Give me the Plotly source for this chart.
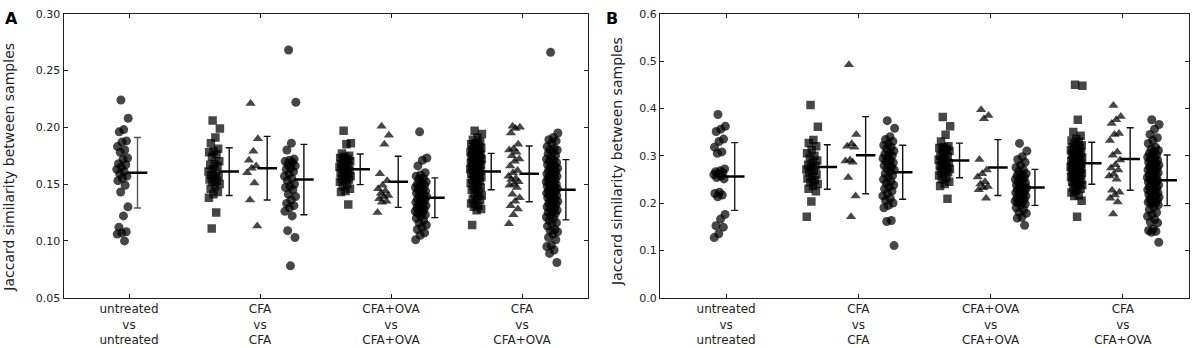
import plotly.graph_objects as go

# ---------------- data ----------------
categories = ["untreated<br>vs<br>untreated", "CFA<br>vs<br>CFA",
              "CFA+OVA<br>vs<br>CFA+OVA", "CFA<br>vs<br>CFA+OVA"]

A_yticks = [0.05, 0.10, 0.15, 0.20, 0.25, 0.30]
B_yticks = [0.0, 0.1, 0.2, 0.3, 0.4, 0.5, 0.6]

# Panel A
A_g1_circ = [0.224,0.208,0.198,0.196,0.188,0.187,0.183,0.180,0.178,0.173,0.172,0.168,0.167,0.165,0.163,
             0.161,0.159,0.157,0.155,0.153,0.149,0.143,0.130,0.122,0.112,0.108,0.107,0.106,0.100]
A_g2_sq = [0.206,0.199,0.191,0.186,0.181,0.179,0.178,0.176,0.174,0.170,0.168,0.167,0.166,0.163,0.161,
           0.160,0.158,0.157,0.155,0.154,0.153,0.152,0.150,0.148,0.146,0.143,0.141,0.138,0.125,0.111]
A_g2_tri = [0.221,0.190,0.179,0.171,0.166,0.164,0.160,0.151,0.136,0.113]
A_g2_circ = [0.268,0.222,0.186,0.180,0.172,0.171,0.170,0.169,0.167,0.166,0.164,0.163,0.161,0.159,0.157,
             0.155,0.153,0.150,0.148,0.147,0.145,0.141,0.139,0.136,0.133,0.131,0.129,0.126,0.122,0.109,
             0.103,0.078]
A_g3_sq = [0.197,0.186,0.185,0.177,0.175,0.174,0.173,0.172,0.171,0.170,0.169,0.168,0.167,0.166,0.165,
           0.164,0.163,0.162,0.161,0.160,0.159,0.158,0.157,0.156,0.155,0.154,0.153,0.152,0.150,0.148,
           0.146,0.144,0.143,0.132]
A_g3_tri = [0.201,0.193,0.185,0.159,0.153,0.149,0.146,0.144,0.142,0.140,0.139,0.137,0.135,0.134,0.125]
A_g3_circ = [0.196,0.173,0.171,0.166,0.160,0.158,0.157,0.155,0.154,0.152,0.151,0.150,0.149,0.148,0.147,
             0.146,0.145,0.144,0.143,0.142,0.141,0.140,0.139,0.138,0.137,0.136,0.135,0.134,0.133,0.132,
             0.131,0.130,0.129,0.128,0.127,0.126,0.125,0.124,0.123,0.122,0.120,0.118,0.116,0.114,0.112,
             0.110,0.107,0.105,0.101]
A_g4_sq = [0.197,0.194,0.191,0.189,0.187,0.186,0.185,0.184,0.183,0.182,0.181,0.180,0.179,0.178,0.178,
           0.177,0.176,0.176,0.175,0.174,0.174,0.173,0.172,0.172,0.171,0.170,0.170,0.169,0.168,0.168,
           0.167,0.166,0.166,0.165,0.164,0.163,0.163,0.162,0.161,0.160,0.159,0.158,0.157,0.156,0.155,
           0.154,0.153,0.152,0.151,0.150,0.148,0.147,0.146,0.145,0.143,0.142,0.140,0.139,0.137,0.136,
           0.135,0.133,0.131,0.130,0.128,0.127,0.114]
A_g4_tri = [0.201,0.200,0.199,0.195,0.185,0.181,0.180,0.178,0.175,0.172,0.170,0.166,0.162,0.160,0.157,
            0.155,0.154,0.152,0.150,0.149,0.147,0.141,0.138,0.135,0.131,0.128,0.123,0.115]
A_g4_circ = [0.266,0.195,0.191,0.189,0.188,0.186,0.183,0.181,0.180,0.180,0.178,0.177,0.175,0.173,0.172,
             0.171,0.170,0.169,0.168,0.167,0.166,0.165,0.164,0.163,0.162,0.161,0.160,0.159,0.158,0.157,
             0.157,0.156,0.155,0.154,0.153,0.152,0.152,0.151,0.150,0.149,0.148,0.148,0.147,0.146,0.145,
             0.144,0.144,0.143,0.142,0.141,0.140,0.140,0.139,0.138,0.137,0.136,0.135,0.134,0.133,0.132,
             0.131,0.130,0.129,0.128,0.127,0.126,0.125,0.124,0.122,0.121,0.120,0.118,0.116,0.115,0.113,
             0.110,0.109,0.108,0.106,0.103,0.101,0.096,0.095,0.092,0.089,0.081]
A_means = [0.160, 0.161, 0.164, 0.154, 0.163, 0.152, 0.138, 0.161, 0.159, 0.145]
A_sds = [0.031, 0.021, 0.028, 0.031, 0.0135, 0.0225, 0.0175, 0.016, 0.0245, 0.0265]

# Panel B
B_g1_circ = [0.387,0.362,0.356,0.351,0.335,0.330,0.318,0.308,0.305,0.272,0.268,0.266,0.264,0.262,0.260,
             0.257,0.254,0.251,0.223,0.220,0.217,0.213,0.176,0.166,0.152,0.149,0.135,0.127]
B_g2_sq = [0.407,0.361,0.333,0.327,0.320,0.312,0.305,0.300,0.294,0.290,0.285,0.281,0.278,0.275,0.271,
           0.268,0.264,0.260,0.256,0.252,0.248,0.244,0.240,0.236,0.230,0.225,0.203,0.171]
B_g2_tri = [0.492,0.345,0.325,0.320,0.318,0.291,0.289,0.286,0.254,0.215,0.171]
B_g2_circ = [0.374,0.358,0.340,0.334,0.330,0.325,0.322,0.318,0.314,0.310,0.306,0.303,0.300,0.297,0.294,
             0.291,0.288,0.285,0.282,0.279,0.276,0.273,0.270,0.266,0.262,0.258,0.254,0.250,0.246,0.242,
             0.238,0.234,0.230,0.225,0.220,0.215,0.210,0.205,0.200,0.195,0.190,0.163,0.161,0.110]
B_g3_sq = [0.382,0.362,0.344,0.330,0.320,0.318,0.316,0.314,0.312,0.310,0.305,0.300,0.298,0.295,0.292,
           0.290,0.287,0.284,0.281,0.278,0.276,0.274,0.272,0.270,0.268,0.265,0.262,0.258,0.254,0.250,
           0.245,0.240,0.236,0.209]
B_g3_tri = [0.397,0.385,0.378,0.292,0.270,0.262,0.255,0.245,0.240,0.235,0.232,0.228,0.210]
B_g3_circ = [0.326,0.310,0.298,0.292,0.286,0.280,0.275,0.270,0.266,0.262,0.260,0.258,0.255,0.252,0.250,
             0.248,0.245,0.243,0.240,0.238,0.236,0.234,0.232,0.230,0.228,0.226,0.224,0.222,0.220,0.218,
             0.215,0.213,0.210,0.208,0.206,0.204,0.202,0.200,0.198,0.195,0.190,0.186,0.180,0.178,0.170,
             0.168,0.153]
B_g4_sq = [0.450,0.448,0.376,0.350,0.342,0.336,0.332,0.330,0.326,0.322,0.320,0.318,0.316,0.314,0.312,
           0.310,0.308,0.306,0.304,0.302,0.300,0.298,0.296,0.295,0.293,0.291,0.290,0.288,0.286,0.285,
           0.283,0.282,0.280,0.279,0.277,0.276,0.274,0.273,0.272,0.270,0.268,0.267,0.265,0.264,0.262,
           0.260,0.259,0.257,0.255,0.253,0.251,0.249,0.247,0.245,0.243,0.240,0.238,0.235,0.232,0.230,
           0.226,0.222,0.216,0.215,0.205,0.171]
B_g4_tri = [0.406,0.383,0.376,0.368,0.347,0.345,0.332,0.308,0.301,0.291,0.281,0.274,0.270,0.261,0.257,
            0.250,0.227,0.223,0.217,0.210,0.202,0.177]
B_g4_circ = [0.376,0.366,0.356,0.345,0.338,0.332,0.326,0.318,0.314,0.311,0.308,0.305,0.302,0.300,0.297,
             0.294,0.292,0.290,0.288,0.286,0.284,0.282,0.280,0.278,0.276,0.274,0.272,0.270,0.268,0.266,
             0.264,0.262,0.260,0.258,0.256,0.254,0.252,0.250,0.248,0.246,0.244,0.242,0.240,0.238,0.236,
             0.234,0.232,0.230,0.228,0.226,0.224,0.222,0.220,0.218,0.216,0.214,0.212,0.210,0.208,0.206,
             0.204,0.202,0.200,0.198,0.196,0.192,0.186,0.180,0.176,0.172,0.165,0.160,0.158,0.145,0.142,
             0.140,0.138,0.117]
B_means = [0.256, 0.276, 0.301, 0.265, 0.290, 0.275, 0.233, 0.284, 0.293, 0.248]
B_sds = [0.0715, 0.047, 0.0815, 0.057, 0.0365, 0.059, 0.038, 0.0445, 0.066, 0.0535]

# series table: (category index, marker kind)
series_keys = [(0, "circle"), (1, "square"), (1, "triangle"), (1, "circle"),
               (2, "square"), (2, "triangle"), (2, "circle"),
               (3, "square"), (3, "triangle"), (3, "circle")]
A_values = [A_g1_circ, A_g2_sq, A_g2_tri, A_g2_circ, A_g3_sq, A_g3_tri, A_g3_circ,
            A_g4_sq, A_g4_tri, A_g4_circ]
B_values = [B_g1_circ, B_g2_sq, B_g2_tri, B_g2_circ, B_g3_sq, B_g3_tri, B_g3_circ,
            B_g4_sq, B_g4_tri, B_g4_circ]

# ---------------- style / layout ----------------
W, H = 1196, 348
FONT = "DejaVu Sans"
PT_OFF = {"square": -0.35, "triangle": -0.06, "circle": 0.23}
ERR_OFF = {"square": -0.235, "triangle": 0.055, "circle": 0.335}
SINGLE_PT_OFF, SINGLE_ERR_OFF = -0.05, 0.065
SYMBOL = {"circle": "circle", "square": "square", "triangle": "triangle-up"}
SIZE = {"circle": 9, "square": 8.5, "triangle": 9}
JIT = 0.045

def jitter(i):
    return (((i * 0.6180339887) + 0.37) % 1.0) * 2 - 1

fig = go.Figure()

def add_panel(values, means, sds, xa, ya, first_err_color):
    for k, ((cat, kind), vals) in enumerate(zip(series_keys, values)):
        single = (cat == 0)
        po = SINGLE_PT_OFF if single else PT_OFF[kind]
        eo = SINGLE_ERR_OFF if single else ERR_OFF[kind]
        xs = [cat + 1 + po + JIT * jitter(i) for i in range(len(vals))]
        fig.add_trace(go.Scatter(
            x=xs, y=vals, mode="markers", xaxis=xa, yaxis=ya,
            marker=dict(symbol=SYMBOL[kind], size=SIZE[kind],
                        color="rgba(0,0,0,0.72)", line=dict(width=0)),
            hoverinfo="y", showlegend=False))
        fig.add_trace(go.Scatter(
            x=[cat + 1 + eo], y=[means[k]], mode="markers", xaxis=xa, yaxis=ya,
            marker=dict(symbol="line-ew", size=14,
                        line=dict(width=2.5, color="black"), color="black"),
            error_y=dict(type="data", array=[sds[k]], visible=True,
                         thickness=1.4, width=3.5,
                         color=first_err_color if single else "#111111"),
            hoverinfo="y", showlegend=False))

add_panel(A_values, A_means, A_sds, "x", "y", "#555555")
add_panel(B_values, B_means, B_sds, "x2", "y2", "#222222")

def px_x(p):
    return p / W

def px_y(p):
    return 1 - p / H

ydom = [px_y(303), px_y(8)]
axis_common = dict(showline=True, linecolor="#222222", linewidth=1, mirror="ticks",
                   ticks="inside", ticklen=4, tickwidth=1, tickcolor="#222222",
                   showgrid=False, zeroline=False,
                   tickfont=dict(family=FONT, size=11, color="#222222"))
xtickfont = dict(family=FONT, size=12, color="#222222")

fig.update_layout(
    width=W, height=H, margin=dict(l=0, r=0, t=0, b=0),
    paper_bgcolor="white", plot_bgcolor="white", showlegend=False,
    font=dict(family=FONT, color="#222222"),
    xaxis=dict(domain=[px_x(63.5), px_x(587.5)], range=[0.5, 4.5],
               tickvals=[1, 2, 3, 4], ticktext=categories, anchor="y",
               **{**axis_common, "tickfont": xtickfont}),
    yaxis=dict(domain=ydom, range=[A_yticks[0], A_yticks[-1]], tickvals=A_yticks,
               ticktext=[f"{v:.2f}" for v in A_yticks], anchor="x", **axis_common),
    xaxis2=dict(domain=[px_x(660), px_x(1189)], range=[0.5, 4.5],
                tickvals=[1, 2, 3, 4], ticktext=categories, anchor="y2",
                **{**axis_common, "tickfont": xtickfont}),
    yaxis2=dict(domain=ydom, range=[B_yticks[0], B_yticks[-1]], tickvals=B_yticks,
                ticktext=[f"{v:.1f}" for v in B_yticks], anchor="x2", **axis_common),
)

ann = []
for label, x in (("A", 11), ("B", 612)):
    ann.append(dict(text=f"<b>{label}</b>", x=px_x(x), y=px_y(13), xref="paper", yref="paper",
                    showarrow=False, xanchor="center", yanchor="middle",
                    font=dict(family=FONT, size=16, color="black")))
for x, yc in ((9, 168), (617, 162)):
    ann.append(dict(text="Jaccard similarity between samples", x=px_x(x), y=px_y(yc),
                    xref="paper", yref="paper", showarrow=False, textangle=-90,
                    xanchor="center", yanchor="middle",
                    font=dict(family=FONT, size=14, color="#222222")))
fig.update_layout(annotations=ann)

fig.write_html("out.html", config={"displayModeBar": False},
               post_script="document.body.style.margin='0';document.body.style.overflow='hidden';")
